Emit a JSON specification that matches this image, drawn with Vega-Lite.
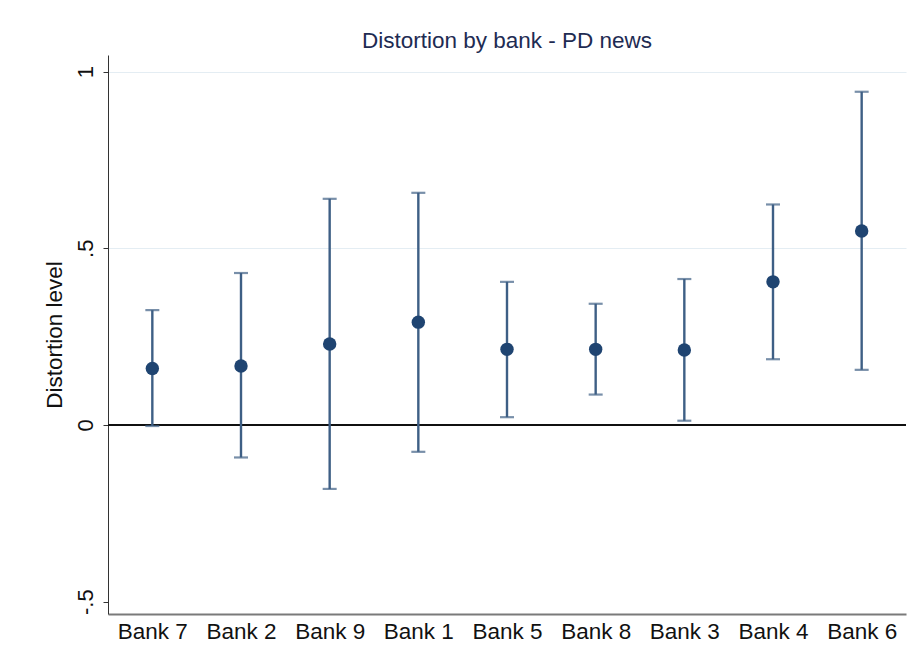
{
  "$schema": "https://vega.github.io/schema/vega-lite/v6.json",
  "width": 798,
  "height": 559,
  "autosize": {"type": "none"},
  "padding": {"left": 108, "top": 55, "right": 11, "bottom": 56},
  "background": "white",
  "config": {
    "view": {"stroke": null},
    "font": "Liberation Sans"
  },
  "title": {
    "text": "Distortion by bank - PD news",
    "anchor": "middle",
    "frame": "group",
    "fontSize": 22.5,
    "fontWeight": "normal",
    "color": "#1e2b52",
    "font": "Liberation Sans",
    "offset": 3
  },
  "data": {
    "values": [
      {"bank": "Bank 7", "est": 0.160, "lo": -0.003, "hi": 0.325},
      {"bank": "Bank 2", "est": 0.167, "lo": -0.092, "hi": 0.430},
      {"bank": "Bank 9", "est": 0.229, "lo": -0.181, "hi": 0.640},
      {"bank": "Bank 1", "est": 0.291, "lo": -0.076, "hi": 0.657},
      {"bank": "Bank 5", "est": 0.214, "lo": 0.022, "hi": 0.405},
      {"bank": "Bank 8", "est": 0.214, "lo": 0.086, "hi": 0.343},
      {"bank": "Bank 3", "est": 0.212, "lo": 0.012, "hi": 0.413},
      {"bank": "Bank 4", "est": 0.405, "lo": 0.186, "hi": 0.624},
      {"bank": "Bank 6", "est": 0.549, "lo": 0.156, "hi": 0.943}
    ]
  },
  "encoding": {
    "x": {
      "field": "bank",
      "type": "nominal",
      "sort": null,
      "scale": {"type": "point", "padding": 0.5},
      "axis": {
        "title": null,
        "labelAngle": 0,
        "labelFontSize": 22.5,
        "labelColor": "#111111",
        "labelPadding": 6,
        "ticks": false,
        "domainColor": "#7a7a7a",
        "domainWidth": 2.2,
        "grid": false
      }
    }
  },
  "layer": [
    {
      "mark": {"type": "rule", "color": "#111111", "strokeWidth": 1.6},
      "encoding": {
        "x": null,
        "y": {
          "datum": 0,
          "type": "quantitative",
          "scale": {"domain": [-0.535, 1.047], "nice": false, "zero": false},
          "axis": {
            "title": "Distortion level",
            "titleFontSize": 22.5,
            "titleFontWeight": "normal",
            "titleColor": "#111111",
            "titlePadding": 8,
            "values": [-0.5, 0, 0.5, 1],
            "labelExpr": "datum.value == 0.5 ? '.5' : (datum.value == -0.5 ? '-.5' : (datum.value == 0 ? '0' : '1'))",
            "labelAngle": -90,
            "labelAlign": "center",
            "labelBaseline": "bottom",
            "labelFontSize": 22,
            "labelColor": "#111111",
            "labelPadding": 6,
            "tickSize": 5,
            "tickColor": "#333333",
            "domainColor": "#333333",
            "domainWidth": 1,
            "grid": true,
            "gridColor": {"condition": {"test": "datum.value <= 0", "value": "transparent"}, "value": "#e4edf3"},
            "gridWidth": 1.2
          }
        }
      }
    },
    {
      "mark": {"type": "rule", "color": "#3e5f85", "strokeWidth": 2.4},
      "encoding": {
        "y": {"field": "lo", "type": "quantitative"},
        "y2": {"field": "hi"}
      }
    },
    {
      "mark": {"type": "tick", "orient": "horizontal", "color": "#3e5f85", "size": 14, "thickness": 2.2},
      "encoding": {
        "y": {"field": "lo", "type": "quantitative"}
      }
    },
    {
      "mark": {"type": "tick", "orient": "horizontal", "color": "#3e5f85", "size": 14, "thickness": 2.2},
      "encoding": {
        "y": {"field": "hi", "type": "quantitative"}
      }
    },
    {
      "mark": {"type": "circle", "color": "#1f4471", "opacity": 1, "size": 180},
      "encoding": {
        "y": {"field": "est", "type": "quantitative"}
      }
    }
  ]
}
